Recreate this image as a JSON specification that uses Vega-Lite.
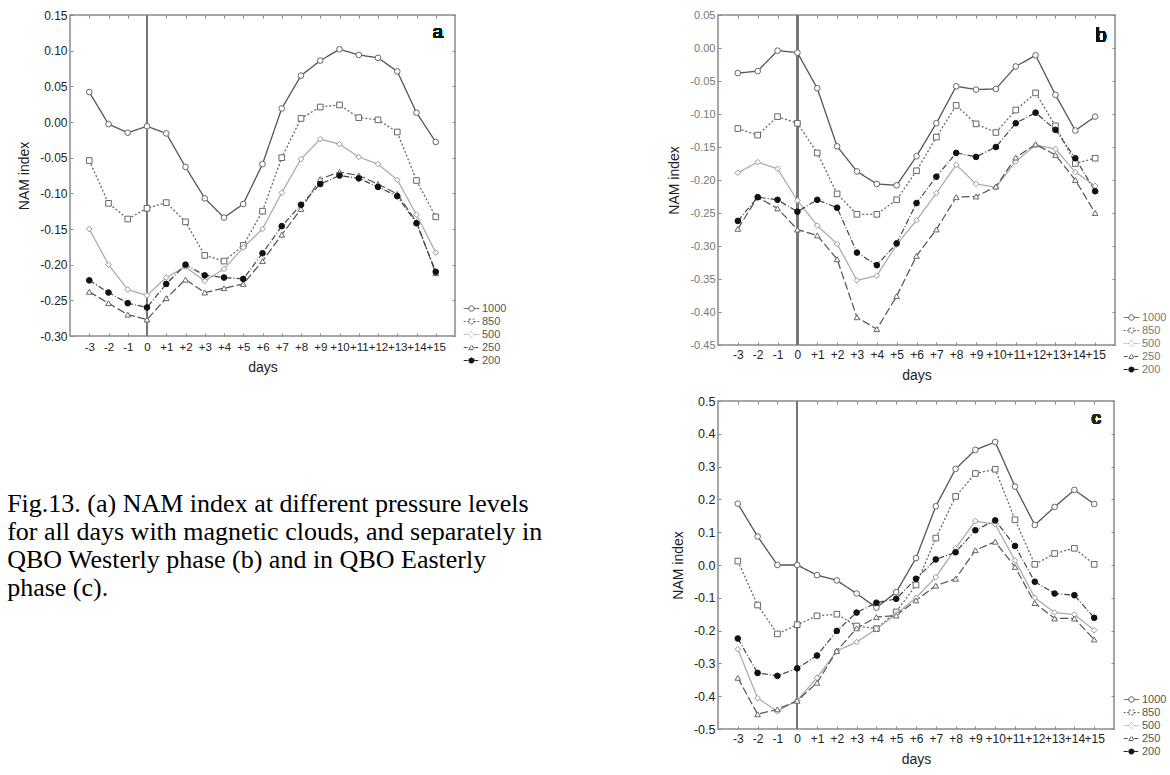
{
  "$schema": "https://vega.github.io/schema/vega-lite/v6.json",
  "background": "white",
  "padding": {"left": 6, "top": 8, "right": 0, "bottom": 0},
  "datasets": {
    "a": [
      {"day": -3, "1000": 0.042, "850": -0.054, "500": -0.150, "250": -0.238, "200": -0.222},
      {"day": -2, "1000": -0.003, "850": -0.114, "500": -0.200, "250": -0.254, "200": -0.239},
      {"day": -1, "1000": -0.015, "850": -0.136, "500": -0.235, "250": -0.270, "200": -0.254},
      {"day": 0, "1000": -0.006, "850": -0.121, "500": -0.243, "250": -0.277, "200": -0.260},
      {"day": 1, "1000": -0.016, "850": -0.113, "500": -0.218, "250": -0.247, "200": -0.227},
      {"day": 2, "1000": -0.063, "850": -0.140, "500": -0.203, "250": -0.221, "200": -0.200},
      {"day": 3, "1000": -0.107, "850": -0.187, "500": -0.223, "250": -0.239, "200": -0.215},
      {"day": 4, "1000": -0.134, "850": -0.195, "500": -0.206, "250": -0.233, "200": -0.218},
      {"day": 5, "1000": -0.115, "850": -0.173, "500": -0.176, "250": -0.227, "200": -0.220},
      {"day": 6, "1000": -0.059, "850": -0.125, "500": -0.150, "250": -0.195, "200": -0.184},
      {"day": 7, "1000": 0.019, "850": -0.050, "500": -0.099, "250": -0.158, "200": -0.146},
      {"day": 8, "1000": 0.065, "850": 0.005, "500": -0.052, "250": -0.122, "200": -0.116},
      {"day": 9, "1000": 0.086, "850": 0.021, "500": -0.024, "250": -0.080, "200": -0.087},
      {"day": 10, "1000": 0.102, "850": 0.024, "500": -0.031, "250": -0.070, "200": -0.075},
      {"day": 11, "1000": 0.094, "850": 0.006, "500": -0.049, "250": -0.075, "200": -0.079},
      {"day": 12, "1000": 0.090, "850": 0.003, "500": -0.059, "250": -0.087, "200": -0.091},
      {"day": 13, "1000": 0.071, "850": -0.014, "500": -0.081, "250": -0.101, "200": -0.104},
      {"day": 14, "1000": 0.013, "850": -0.082, "500": -0.130, "250": -0.140, "200": -0.142},
      {"day": 15, "1000": -0.028, "850": -0.133, "500": -0.183, "250": -0.212, "200": -0.210}
    ],
    "b": [
      {"day": -3, "1000": -0.038, "850": -0.122, "500": -0.189, "250": -0.274, "200": -0.262},
      {"day": -2, "1000": -0.035, "850": -0.132, "500": -0.173, "250": -0.226, "200": -0.226},
      {"day": -1, "1000": -0.004, "850": -0.104, "500": -0.183, "250": -0.243, "200": -0.230},
      {"day": 0, "1000": -0.007, "850": -0.114, "500": -0.231, "250": -0.275, "200": -0.248},
      {"day": 1, "1000": -0.061, "850": -0.159, "500": -0.269, "250": -0.284, "200": -0.230},
      {"day": 2, "1000": -0.149, "850": -0.221, "500": -0.297, "250": -0.320, "200": -0.242},
      {"day": 3, "1000": -0.187, "850": -0.252, "500": -0.352, "250": -0.408, "200": -0.310},
      {"day": 4, "1000": -0.206, "850": -0.252, "500": -0.345, "250": -0.426, "200": -0.329},
      {"day": 5, "1000": -0.208, "850": -0.230, "500": -0.298, "250": -0.376, "200": -0.296},
      {"day": 6, "1000": -0.164, "850": -0.186, "500": -0.261, "250": -0.315, "200": -0.235},
      {"day": 7, "1000": -0.114, "850": -0.135, "500": -0.220, "250": -0.275, "200": -0.195},
      {"day": 8, "1000": -0.058, "850": -0.087, "500": -0.177, "250": -0.226, "200": -0.159},
      {"day": 9, "1000": -0.063, "850": -0.115, "500": -0.206, "250": -0.225, "200": -0.165},
      {"day": 10, "1000": -0.062, "850": -0.128, "500": -0.211, "250": -0.210, "200": -0.150},
      {"day": 11, "1000": -0.028, "850": -0.094, "500": -0.172, "250": -0.166, "200": -0.114},
      {"day": 12, "1000": -0.011, "850": -0.068, "500": -0.147, "250": -0.146, "200": -0.098},
      {"day": 13, "1000": -0.071, "850": -0.118, "500": -0.153, "250": -0.162, "200": -0.124},
      {"day": 14, "1000": -0.125, "850": -0.175, "500": -0.188, "250": -0.200, "200": -0.167},
      {"day": 15, "1000": -0.104, "850": -0.167, "500": -0.209, "250": -0.250, "200": -0.217}
    ],
    "c": [
      {"day": -3, "1000": 0.187, "850": 0.012, "500": -0.257, "250": -0.344, "200": -0.224},
      {"day": -2, "1000": 0.087, "850": -0.122, "500": -0.406, "250": -0.455, "200": -0.329},
      {"day": -1, "1000": 0.000, "850": -0.210, "500": -0.446, "250": -0.440, "200": -0.338},
      {"day": 0, "1000": 0.000, "850": -0.182, "500": -0.413, "250": -0.414, "200": -0.315},
      {"day": 1, "1000": -0.031, "850": -0.155, "500": -0.344, "250": -0.359, "200": -0.276},
      {"day": 2, "1000": -0.047, "850": -0.150, "500": -0.262, "250": -0.262, "200": -0.201},
      {"day": 3, "1000": -0.087, "850": -0.186, "500": -0.235, "250": -0.193, "200": -0.145},
      {"day": 4, "1000": -0.130, "850": -0.194, "500": -0.195, "250": -0.159, "200": -0.115},
      {"day": 5, "1000": -0.083, "850": -0.143, "500": -0.150, "250": -0.154, "200": -0.103},
      {"day": 6, "1000": 0.021, "850": -0.061, "500": -0.100, "250": -0.108, "200": -0.042},
      {"day": 7, "1000": 0.179, "850": 0.082, "500": -0.037, "250": -0.063, "200": 0.017},
      {"day": 8, "1000": 0.293, "850": 0.209, "500": 0.051, "250": -0.042, "200": 0.039},
      {"day": 9, "1000": 0.351, "850": 0.279, "500": 0.134, "250": 0.045, "200": 0.106},
      {"day": 10, "1000": 0.375, "850": 0.292, "500": 0.124, "250": 0.071, "200": 0.136},
      {"day": 11, "1000": 0.239, "850": 0.138, "500": 0.014, "250": -0.006, "200": 0.058},
      {"day": 12, "1000": 0.122, "850": 0.002, "500": -0.100, "250": -0.116, "200": -0.051},
      {"day": 13, "1000": 0.177, "850": 0.035, "500": -0.145, "250": -0.163, "200": -0.087},
      {"day": 14, "1000": 0.229, "850": 0.051, "500": -0.151, "250": -0.163, "200": -0.092},
      {"day": 15, "1000": 0.186, "850": 0.002, "500": -0.199, "250": -0.227, "200": -0.161}
    ],
    "caption": [
      {"line": 1, "text": "Fig.13. (a) NAM index at different pressure levels"},
      {"line": 2, "text": "for all days with magnetic clouds, and  separately in"},
      {"line": 3, "text": "QBO Westerly phase (b) and in QBO Easterly"},
      {"line": 4, "text": "phase (c)."}
    ]
  },
  "config": {
    "view": {"stroke": "#8a8a8a", "strokeWidth": 1.5},
    "axis": {"grid": false, "domain": false, "ticks": true, "tickSize": -3, "tickColor": "#888", "labelFont": "Liberation Sans", "titleFont": "Liberation Sans", "titleFontWeight": "normal", "labelColor": "#222", "titleColor": "#222", "labelOverlap": false, "labelFlush": false}
  },
  "hconcat": [
    {
      "spacing": 113,
      "vconcat": [
        {
          "width": 385, "height": 321,
          "data": {"name": "a"},
          "transform": [{"fold": ["1000", "850", "500", "250", "200"], "as": ["level", "value"]}],
          "resolve": {"scale": {"shape": "independent", "stroke": "independent", "fill": "independent", "strokeDash": "independent", "strokeWidth": "independent"}, "axis": {"x": "independent", "y": "independent"}},
          "layer": [
            {"mark": {"type": "rule", "color": "#777", "strokeWidth": 1.5},
             "encoding": {"x": {"datum": 0, "type": "quantitative", "scale": {"domain": [-4, 16], "nice": false, "zero": false}, "axis": null}}},
            {"mark": {"type": "line"},
             "encoding": {
               "x": {"field": "day", "type": "quantitative", "scale": {"domain": [-4, 16], "nice": false, "zero": false},
                     "axis": {"orient": "bottom", "values": [-3,-2,-1,0,1,2,3,4,5,6,7,8,9,10,11,12,13,14,15], "labelExpr": "datum.value > 0 ? '+' + datum.value : '' + datum.value", "title": "days", "labelFontSize": 11.5, "labelPadding": 8, "titleFontSize": 14, "titlePadding": 8}},
               "y": {"field": "value", "type": "quantitative", "scale": {"domain": [-0.30, 0.15], "nice": false, "zero": false},
                     "axis": {"orient": "left", "values": [-0.30,-0.25,-0.20,-0.15,-0.10,-0.05,0,0.05,0.10,0.15], "labelExpr": "replace(format(datum.value,'.2f'),'−','-')", "title": "NAM index", "labelFontSize": 12, "labelPadding": 6, "titleFontSize": 14, "titlePadding": 8}},
               "stroke": {"field": "level", "type": "nominal", "scale": {"domain": ["1000", "850", "500", "250", "200"], "range": ["#555", "#666", "#aaa", "#555", "#444"]}, "legend": null},
               "strokeDash": {"field": "level", "type": "nominal", "scale": {"domain": ["1000", "850", "500", "250", "200"], "range": [[1, 0], [2, 2], [1, 0], [8, 3], [6, 2, 1, 2]]}, "legend": null},
               "strokeWidth": {"field": "level", "type": "ordinal", "scale": {"domain": ["1000", "850", "500", "250", "200"], "range": [1.3, 1.2, 1, 1.2, 1.2]}, "legend": null}
             }},
            {"mark": {"type": "point", "filled": true, "opacity": 1, "size": 32, "strokeWidth": 1},
             "encoding": {
               "x": {"field": "day", "type": "quantitative", "scale": {"domain": [-4, 16], "nice": false, "zero": false}, "axis": null},
               "y": {"field": "value", "type": "quantitative", "scale": {"domain": [-0.30, 0.15], "nice": false, "zero": false}, "axis": null},
               "shape": {"field": "level", "type": "nominal", "scale": {"domain": ["1000", "850", "500", "250", "200"], "range": ["circle", "square", "diamond", "triangle-up", "circle"]}, "legend": null},
               "fill": {"field": "level", "type": "nominal", "scale": {"domain": ["1000", "850", "500", "250", "200"], "range": ["white", "white", "white", "white", "#111"]}, "legend": null},
               "stroke": {"field": "level", "type": "nominal", "scale": {"domain": ["1000", "850", "500", "250", "200"], "range": ["#666", "#666", "#999", "#666", "#111"]}, "legend": null}
             }},
            {"mark": {"type": "text", "font": "Liberation Sans", "fontSize": 19, "color": "#111"},
             "encoding": {
               "x": {"datum": 15.1, "type": "quantitative", "scale": {"domain": [-4, 16], "nice": false, "zero": false}, "axis": {"orient": "top", "labels": false, "title": null, "values": [-3,-2,-1,0,1,2,3,4,5,6,7,8,9,10,11,12,13,14,15]}},
               "y": {"datum": 0.126, "type": "quantitative", "scale": {"domain": [-0.30, 0.15], "nice": false, "zero": false}, "axis": {"orient": "right", "labels": false, "title": null, "values": [-0.30,-0.25,-0.20,-0.15,-0.10,-0.05,0,0.05,0.10,0.15]}},
               "text": {"value": "a"}
             }},
            {"transform": [{"filter": "false"}],
             "mark": {"type": "point", "filled": true, "opacity": 1, "strokeWidth": 1},
             "encoding": {
               "shape": {"field": "level", "type": "nominal", "scale": {"domain": ["1000", "850", "500", "250", "200"], "range": ["M-2.6,0H-0.9M0.9,0H2.6M-0.9,0A0.9,0.9 0 1,0 0.9,0A0.9,0.9 0 1,0 -0.9,0", "M-2.6,0H-0.8M0.8,0H2.6M-0.8,-0.8H0.8V0.8H-0.8Z", "M-2.6,0H-1M1,0H2.6M-1,0L0,-1L1,0L0,1Z", "M-2.6,0H-0.9M0.9,0H2.6M-0.9,0.7L0,-0.9L0.9,0.7Z", "M-2.6,0H-0.9M0.9,0H2.6M-0.9,0A0.9,0.9 0 1,0 0.9,0A0.9,0.9 0 1,0 -0.9,0"]},
                         "legend": {"title": null, "orient": "none", "legendX": 390, "legendY": 288, "symbolSize": 36, "symbolOffset": 6, "labelOffset": 5, "rowPadding": 1, "labelFontSize": 11, "labelColor": "#555", "labelFont": "Liberation Sans", "symbolStrokeWidth": 1}},
               "fill": {"field": "level", "type": "nominal", "scale": {"domain": ["1000", "850", "500", "250", "200"], "range": ["white", "white", "white", "white", "#111"]}},
               "stroke": {"field": "level", "type": "nominal", "scale": {"domain": ["1000", "850", "500", "250", "200"], "range": ["#555", "#666", "#999", "#555", "#222"]}},
               "strokeDash": {"field": "level", "type": "nominal", "scale": {"domain": ["1000", "850", "500", "250", "200"], "range": [[1, 0], [2, 1.5], [1, 1], [4, 2], [4, 1, 1, 1]]}}
             }}
          ]
        },
        {
          "width": 491, "height": 112,
          "view": {"stroke": "transparent"},
          "data": {"name": "caption"},
          "mark": {"type": "text", "align": "left", "baseline": "middle", "font": "Liberation Serif", "fontSize": 26, "color": "#000"},
          "encoding": {
            "x": {"datum": -0.128, "type": "quantitative", "scale": {"domain": [0, 1]}, "axis": null},
            "y": {"field": "line", "type": "ordinal", "axis": null, "scale": {"paddingInner": 0, "paddingOuter": 0}},
            "text": {"field": "text"}
          }
        }
      ]
    },
    {
      "spacing": 11,
      "vconcat": [
        {
          "width": 397, "height": 330,
          "data": {"name": "b"},
          "transform": [{"fold": ["1000", "850", "500", "250", "200"], "as": ["level", "value"]}],
          "resolve": {"scale": {"shape": "independent", "stroke": "independent", "fill": "independent", "strokeDash": "independent", "strokeWidth": "independent"}, "axis": {"x": "independent", "y": "independent"}},
          "layer": [
            {"mark": {"type": "rule", "color": "#777", "strokeWidth": 1.5},
             "encoding": {"x": {"datum": 0, "type": "quantitative", "scale": {"domain": [-4, 16], "nice": false, "zero": false}, "axis": null}}},
            {"mark": {"type": "line"},
             "encoding": {
               "x": {"field": "day", "type": "quantitative", "scale": {"domain": [-4, 16], "nice": false, "zero": false},
                     "axis": {"orient": "bottom", "values": [-3,-2,-1,0,1,2,3,4,5,6,7,8,9,10,11,12,13,14,15], "labelExpr": "datum.value > 0 ? '+' + datum.value : '' + datum.value", "title": "days", "labelFontSize": 12, "labelPadding": 7, "titleFontSize": 14, "titlePadding": 8}},
               "y": {"field": "value", "type": "quantitative", "scale": {"domain": [-0.45, 0.05], "nice": false, "zero": false},
                     "axis": {"orient": "left", "values": [-0.45,-0.40,-0.35,-0.30,-0.25,-0.20,-0.15,-0.10,-0.05,0,0.05], "labelExpr": "replace(format(datum.value,'.2f'),'−','-')", "title": "NAM index", "labelFontSize": 11, "labelColor": "#777", "labelPadding": 6, "titleFontSize": 14, "titlePadding": 8}},
               "stroke": {"field": "level", "type": "nominal", "scale": {"domain": ["1000", "850", "500", "250", "200"], "range": ["#555", "#666", "#aaa", "#555", "#444"]}, "legend": null},
               "strokeDash": {"field": "level", "type": "nominal", "scale": {"domain": ["1000", "850", "500", "250", "200"], "range": [[1, 0], [2, 2], [1, 0], [8, 3], [6, 2, 1, 2]]}, "legend": null},
               "strokeWidth": {"field": "level", "type": "ordinal", "scale": {"domain": ["1000", "850", "500", "250", "200"], "range": [1.3, 1.2, 1, 1.2, 1.2]}, "legend": null}
             }},
            {"mark": {"type": "point", "filled": true, "opacity": 1, "size": 32, "strokeWidth": 1},
             "encoding": {
               "x": {"field": "day", "type": "quantitative", "scale": {"domain": [-4, 16], "nice": false, "zero": false}, "axis": null},
               "y": {"field": "value", "type": "quantitative", "scale": {"domain": [-0.45, 0.05], "nice": false, "zero": false}, "axis": null},
               "shape": {"field": "level", "type": "nominal", "scale": {"domain": ["1000", "850", "500", "250", "200"], "range": ["circle", "square", "diamond", "triangle-up", "circle"]}, "legend": null},
               "fill": {"field": "level", "type": "nominal", "scale": {"domain": ["1000", "850", "500", "250", "200"], "range": ["white", "white", "white", "white", "#111"]}, "legend": null},
               "stroke": {"field": "level", "type": "nominal", "scale": {"domain": ["1000", "850", "500", "250", "200"], "range": ["#666", "#666", "#999", "#666", "#111"]}, "legend": null}
             }},
            {"mark": {"type": "text", "font": "Liberation Sans", "fontSize": 20, "color": "#111"},
             "encoding": {
               "x": {"datum": 15.3, "type": "quantitative", "scale": {"domain": [-4, 16], "nice": false, "zero": false}, "axis": {"orient": "top", "labels": false, "title": null, "values": [-3,-2,-1,0,1,2,3,4,5,6,7,8,9,10,11,12,13,14,15]}},
               "y": {"datum": 0.018, "type": "quantitative", "scale": {"domain": [-0.45, 0.05], "nice": false, "zero": false}, "axis": {"orient": "right", "labels": false, "title": null, "values": [-0.45,-0.40,-0.35,-0.30,-0.25,-0.20,-0.15,-0.10,-0.05,0,0.05]}},
               "text": {"value": "b"}
             }},
            {"transform": [{"filter": "false"}],
             "mark": {"type": "point", "filled": true, "opacity": 1, "strokeWidth": 1},
             "encoding": {
               "shape": {"field": "level", "type": "nominal", "scale": {"domain": ["1000", "850", "500", "250", "200"], "range": ["M-2.6,0H-0.9M0.9,0H2.6M-0.9,0A0.9,0.9 0 1,0 0.9,0A0.9,0.9 0 1,0 -0.9,0", "M-2.6,0H-0.8M0.8,0H2.6M-0.8,-0.8H0.8V0.8H-0.8Z", "M-2.6,0H-1M1,0H2.6M-1,0L0,-1L1,0L0,1Z", "M-2.6,0H-0.9M0.9,0H2.6M-0.9,0.7L0,-0.9L0.9,0.7Z", "M-2.6,0H-0.9M0.9,0H2.6M-0.9,0A0.9,0.9 0 1,0 0.9,0A0.9,0.9 0 1,0 -0.9,0"]},
                         "legend": {"title": null, "orient": "none", "legendX": 402, "legendY": 297, "symbolSize": 36, "symbolOffset": 6, "labelOffset": 5, "rowPadding": 1, "labelFontSize": 11, "labelColor": "#777", "labelFont": "Liberation Sans", "symbolStrokeWidth": 1}},
               "fill": {"field": "level", "type": "nominal", "scale": {"domain": ["1000", "850", "500", "250", "200"], "range": ["white", "white", "white", "white", "#111"]}},
               "stroke": {"field": "level", "type": "nominal", "scale": {"domain": ["1000", "850", "500", "250", "200"], "range": ["#555", "#666", "#999", "#555", "#222"]}},
               "strokeDash": {"field": "level", "type": "nominal", "scale": {"domain": ["1000", "850", "500", "250", "200"], "range": [[1, 0], [2, 1.5], [1, 1], [4, 2], [4, 1, 1, 1]]}}
             }}
          ]
        },
        {
          "width": 396, "height": 328,
          "data": {"name": "c"},
          "transform": [{"fold": ["1000", "850", "500", "250", "200"], "as": ["level", "value"]}],
          "resolve": {"scale": {"shape": "independent", "stroke": "independent", "fill": "independent", "strokeDash": "independent", "strokeWidth": "independent"}, "axis": {"x": "independent", "y": "independent"}},
          "layer": [
            {"mark": {"type": "rule", "color": "#777", "strokeWidth": 1.5},
             "encoding": {"x": {"datum": 0, "type": "quantitative", "scale": {"domain": [-4, 16], "nice": false, "zero": false}, "axis": null}}},
            {"mark": {"type": "line"},
             "encoding": {
               "x": {"field": "day", "type": "quantitative", "scale": {"domain": [-4, 16], "nice": false, "zero": false},
                     "axis": {"orient": "bottom", "values": [-3,-2,-1,0,1,2,3,4,5,6,7,8,9,10,11,12,13,14,15], "labelExpr": "datum.value > 0 ? '+' + datum.value : '' + datum.value", "title": "days", "labelFontSize": 12, "labelPadding": 7, "titleFontSize": 14, "titlePadding": 8}},
               "y": {"field": "value", "type": "quantitative", "scale": {"domain": [-0.5, 0.5], "nice": false, "zero": false},
                     "axis": {"orient": "left", "values": [-0.5,-0.4,-0.3,-0.2,-0.1,0,0.1,0.2,0.3,0.4,0.5], "labelExpr": "replace(format(datum.value,'.1f'),'−','-')", "title": "NAM index", "labelFontSize": 12.5, "labelPadding": 6, "titleFontSize": 14, "titlePadding": 8}},
               "stroke": {"field": "level", "type": "nominal", "scale": {"domain": ["1000", "850", "500", "250", "200"], "range": ["#555", "#666", "#aaa", "#555", "#444"]}, "legend": null},
               "strokeDash": {"field": "level", "type": "nominal", "scale": {"domain": ["1000", "850", "500", "250", "200"], "range": [[1, 0], [2, 2], [1, 0], [8, 3], [6, 2, 1, 2]]}, "legend": null},
               "strokeWidth": {"field": "level", "type": "ordinal", "scale": {"domain": ["1000", "850", "500", "250", "200"], "range": [1.3, 1.2, 1, 1.2, 1.2]}, "legend": null}
             }},
            {"mark": {"type": "point", "filled": true, "opacity": 1, "size": 32, "strokeWidth": 1},
             "encoding": {
               "x": {"field": "day", "type": "quantitative", "scale": {"domain": [-4, 16], "nice": false, "zero": false}, "axis": null},
               "y": {"field": "value", "type": "quantitative", "scale": {"domain": [-0.5, 0.5], "nice": false, "zero": false}, "axis": null},
               "shape": {"field": "level", "type": "nominal", "scale": {"domain": ["1000", "850", "500", "250", "200"], "range": ["circle", "square", "diamond", "triangle-up", "circle"]}, "legend": null},
               "fill": {"field": "level", "type": "nominal", "scale": {"domain": ["1000", "850", "500", "250", "200"], "range": ["white", "white", "white", "white", "#111"]}, "legend": null},
               "stroke": {"field": "level", "type": "nominal", "scale": {"domain": ["1000", "850", "500", "250", "200"], "range": ["#666", "#666", "#999", "#666", "#111"]}, "legend": null}
             }},
            {"mark": {"type": "text", "font": "Liberation Sans", "fontSize": 18, "fontWeight": "bold", "color": "#222"},
             "encoding": {
               "x": {"datum": 15.1, "type": "quantitative", "scale": {"domain": [-4, 16], "nice": false, "zero": false}, "axis": {"orient": "top", "labels": false, "title": null, "values": [-3,-2,-1,0,1,2,3,4,5,6,7,8,9,10,11,12,13,14,15]}},
               "y": {"datum": 0.446, "type": "quantitative", "scale": {"domain": [-0.5, 0.5], "nice": false, "zero": false}, "axis": {"orient": "right", "labels": false, "title": null, "values": [-0.5,-0.4,-0.3,-0.2,-0.1,0,0.1,0.2,0.3,0.4,0.5]}},
               "text": {"value": "c"}
             }},
            {"transform": [{"filter": "false"}],
             "mark": {"type": "point", "filled": true, "opacity": 1, "strokeWidth": 1},
             "encoding": {
               "shape": {"field": "level", "type": "nominal", "scale": {"domain": ["1000", "850", "500", "250", "200"], "range": ["M-2.6,0H-0.9M0.9,0H2.6M-0.9,0A0.9,0.9 0 1,0 0.9,0A0.9,0.9 0 1,0 -0.9,0", "M-2.6,0H-0.8M0.8,0H2.6M-0.8,-0.8H0.8V0.8H-0.8Z", "M-2.6,0H-1M1,0H2.6M-1,0L0,-1L1,0L0,1Z", "M-2.6,0H-0.9M0.9,0H2.6M-0.9,0.7L0,-0.9L0.9,0.7Z", "M-2.6,0H-0.9M0.9,0H2.6M-0.9,0A0.9,0.9 0 1,0 0.9,0A0.9,0.9 0 1,0 -0.9,0"]},
                         "legend": {"title": null, "orient": "none", "legendX": 402, "legendY": 293, "symbolSize": 36, "symbolOffset": 6, "labelOffset": 5, "rowPadding": 1, "labelFontSize": 11, "labelColor": "#555", "labelFont": "Liberation Sans", "symbolStrokeWidth": 1}},
               "fill": {"field": "level", "type": "nominal", "scale": {"domain": ["1000", "850", "500", "250", "200"], "range": ["white", "white", "white", "white", "#111"]}},
               "stroke": {"field": "level", "type": "nominal", "scale": {"domain": ["1000", "850", "500", "250", "200"], "range": ["#555", "#666", "#999", "#555", "#222"]}},
               "strokeDash": {"field": "level", "type": "nominal", "scale": {"domain": ["1000", "850", "500", "250", "200"], "range": [[1, 0], [2, 1.5], [1, 1], [4, 2], [4, 1, 1, 1]]}}
             }}
          ]
        }
      ]
    }
  ],
  "spacing": 105
}
